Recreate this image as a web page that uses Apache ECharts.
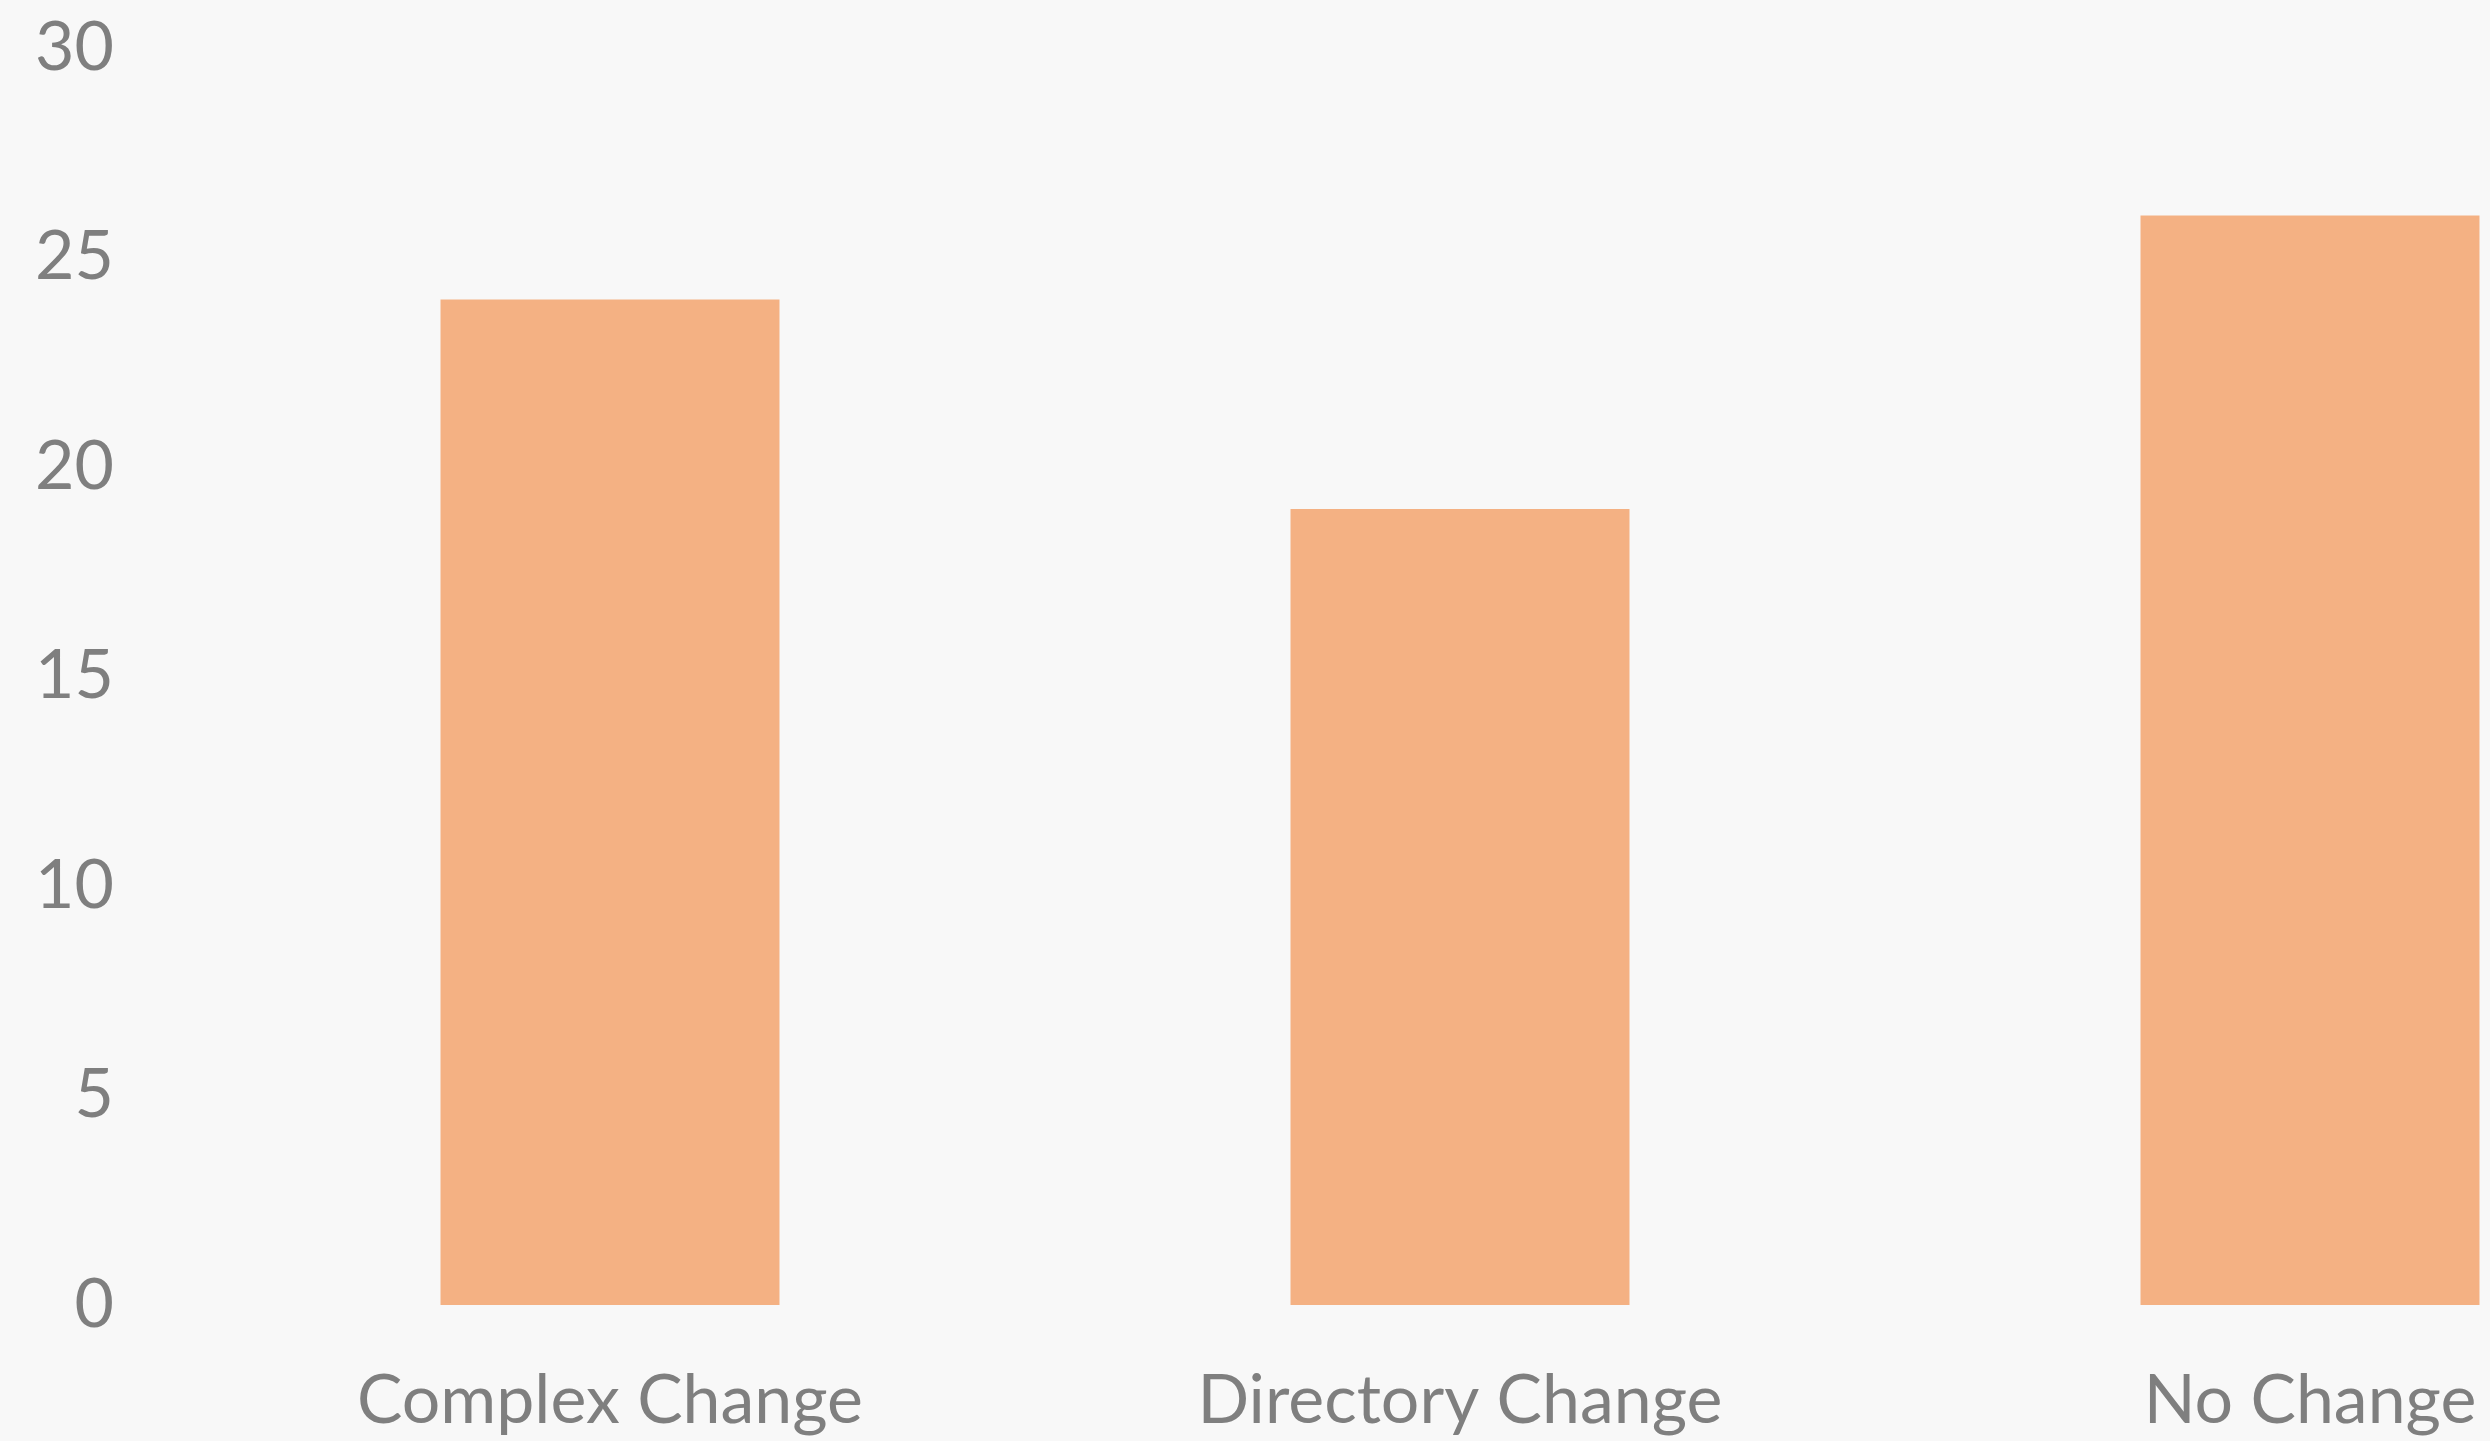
<!DOCTYPE html>
<html>
<head>
<meta charset="utf-8">
<script src="https://cdn.jsdelivr.net/npm/echarts@6/dist/echarts.min.js"></script>
<style>
  html, body { margin: 0; padding: 0; background: #f8f8f8; }
  #charts { width: 2490px; height: 1441px; }
</style>
</head>
<body>
<div id="charts"></div>
<script>
var categories = ['Complex Change', 'Directory Change', 'No Change'];
var values = [24, 19, 26];
var yTicks = [0, 5, 10, 15, 20, 25, 30];

var myChart = echarts.init(document.getElementById('charts'));

var option = {
    backgroundColor: '#f8f8f8',
    grid: {
        left: 185,
        width: 2550,
        top: 48,
        bottom: 136,
        outerBoundsMode: 'none'
    },
    xAxis: {
        type: 'category',
        data: categories,
        axisLine: { show: false },
        axisTick: { show: false },
        axisLabel: {
            color: '#7f7f7f',
            fontFamily: 'Lato',
            fontSize: 68,
            margin: 62
        }
    },
    yAxis: {
        type: 'value',
        min: yTicks[0],
        max: yTicks[yTicks.length - 1],
        interval: 5,
        splitLine: { show: false },
        axisLine: { show: false },
        axisTick: { show: false },
        axisLabel: {
            color: '#7f7f7f',
            fontFamily: 'Lato',
            fontSize: 68,
            margin: 71
        }
    },
    series: [{
        type: 'bar',
        data: values,
        barWidth: 339,
        itemStyle: { color: '#f4b183' }
    }]
};
myChart.setOption(option);
</script>
</body>
</html>
